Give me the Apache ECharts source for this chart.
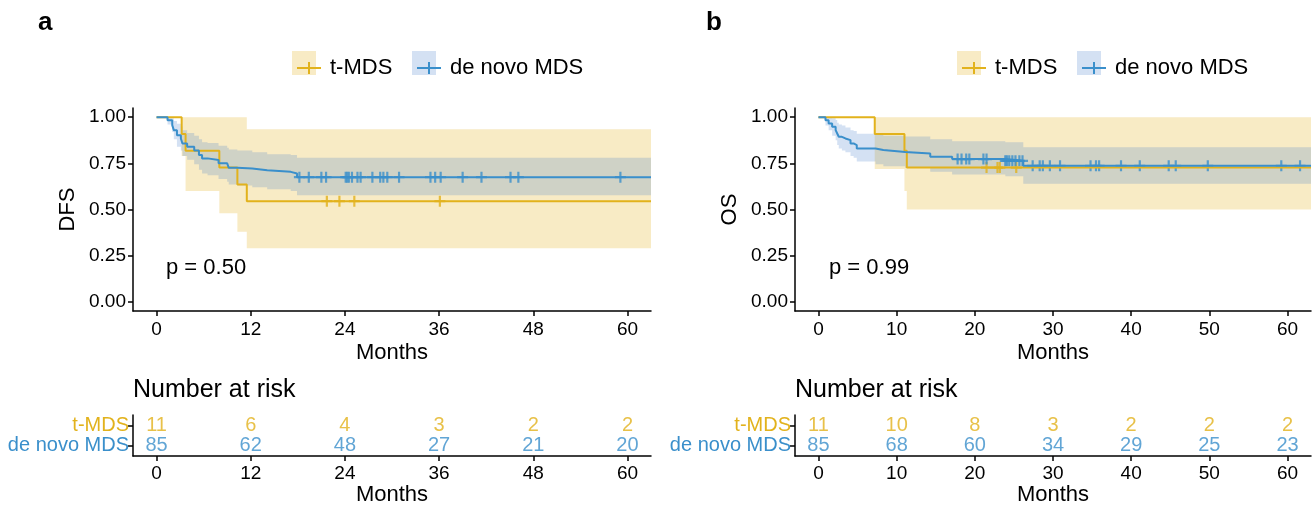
<!DOCTYPE html>
<html>
<head>
<meta charset="utf-8">
<script src="https://cdn.jsdelivr.net/npm/echarts@6/dist/echarts.min.js"></script>
<style>
html, body { margin: 0; padding: 0; background: #fff; }
#chart { width: 1313px; height: 507px; }
</style>
</head>
<body>
<div id="chart"></div>
<script>
// panel a: DFS, t-MDS
var dfsTTime  = [0, 3.2, 3.7, 8.0, 10.3, 11.5, 63];
var dfsTSurv  = [1, 0.909, 0.818, 0.727, 0.636, 0.545, 0.545];
var dfsTUpper = [1, 1, 1, 1, 1, 0.935, 0.935];
var dfsTLower = [1, 0.79, 0.60, 0.48, 0.38, 0.29, 0.29];
var dfsTCensor = [21.7, 23.3, 25.2, 36.1];
// panel a: DFS, de novo MDS
var dfsDTime  = [0, 1.4, 2.0, 2.2, 2.6, 3.1, 3.3, 3.9, 4.8, 5.4, 5.8, 6.5, 7.9, 9.0, 9.2, 10.3, 12.2, 14.1, 17.1, 17.9, 63];
var dfsDSurv  = [1, 0.984, 0.957, 0.93, 0.903, 0.885, 0.858, 0.84, 0.82, 0.795, 0.777, 0.768, 0.75, 0.74, 0.726, 0.722, 0.713, 0.704, 0.695, 0.675, 0.675];
var dfsDUpper = [1, 1, 0.995, 0.98, 0.965, 0.95, 0.93, 0.915, 0.9, 0.88, 0.865, 0.86, 0.845, 0.835, 0.825, 0.82, 0.81, 0.80, 0.795, 0.78, 0.78];
var dfsDLower = [1, 0.96, 0.92, 0.88, 0.84, 0.82, 0.79, 0.77, 0.745, 0.715, 0.695, 0.685, 0.665, 0.65, 0.635, 0.63, 0.62, 0.61, 0.60, 0.577, 0.577];
var dfsDCensor = [18.2, 19.4, 21.0, 21.6, 24.1, 24.3, 24.5, 24.9, 25.6, 26.0, 27.5, 28.5, 28.9, 29.4, 30.9,
                  34.9, 35.5, 36.2, 39.0, 41.4, 45.1, 46.1, 59.1];

// panel b: OS, t-MDS
var osTTime  = [0, 7.2, 11.0, 11.3, 63];
var osTSurv  = [1, 0.909, 0.818, 0.727, 0.727];
var osTUpper = [1, 1, 1, 1, 1];
var osTLower = [1, 0.72, 0.60, 0.50, 0.50];
var osTCensor = [21.5, 22.9, 23.2, 25.3];
// panel b: OS, de novo MDS
var osDTime  = [0, 0.9, 1.3, 1.75, 2.2, 2.4, 2.6, 3.0, 3.45, 4.1, 4.5, 4.9, 7.3, 8.3, 11.1, 14.3, 17.1, 23.9, 26.2, 63];
var osDSurv  = [1, 0.984, 0.966, 0.948, 0.93, 0.912, 0.894, 0.885, 0.876, 0.858, 0.849, 0.831, 0.822, 0.812, 0.804, 0.786, 0.773, 0.764, 0.737, 0.737];
var osDUpper = [1, 1, 1, 0.995, 0.985, 0.97, 0.96, 0.955, 0.945, 0.93, 0.925, 0.91, 0.905, 0.9, 0.895, 0.88, 0.87, 0.865, 0.837, 0.837];
var osDLower = [1, 0.955, 0.93, 0.9, 0.875, 0.85, 0.83, 0.82, 0.81, 0.79, 0.78, 0.76, 0.745, 0.735, 0.725, 0.705, 0.69, 0.68, 0.64, 0.64];
var osDCensor = [17.8, 18.3, 18.9, 19.3, 21.1, 21.5, 23.9, 24.1, 24.4, 24.8, 25.2, 25.7, 26.1, 27.4, 28.3, 28.7, 29.6,
                 30.9, 34.8, 35.5, 35.9, 38.7, 41.1, 44.8, 45.7, 49.8, 59.2, 61.6];

// number at risk
var riskGroups = ['de novo MDS', 't-MDS'];
var riskTimesA = [0, 12, 24, 36, 48, 60];
var riskTA = [11, 6, 4, 3, 2, 2];
var riskDA = [85, 62, 48, 27, 21, 20];
var riskTimesB = [0, 10, 20, 30, 40, 50, 60];
var riskTB = [11, 10, 8, 3, 2, 2, 2];
var riskDB = [85, 68, 60, 34, 29, 25, 23];

var ticksA = [0, 12, 24, 36, 48, 60];
var ticksB = [0, 10, 20, 30, 40, 50, 60];
var ticksY = [0, 0.25, 0.5, 0.75, 1];

var FONT = 'Liberation Sans, Arial, sans-serif';
var YEL = '#E2B21C', BLU = '#3A8FCB';
var YEL_FILL = 'rgba(228,180,40,0.27)', BLU_FILL = 'rgba(60,120,200,0.22)';
var PLUS = 'path://M4,0H6V4H10V6H6V10H4V6H0V4H4Z';
var LEGICON = 'path://M0,5H11V0H13V5H24V7H13V12H11V7H0Z';

function pairs(xs, ys) {
	return xs.map(function (x, i) { return [x, ys[i]]; });
}
function survAt(time, surv, t) {
	var s = surv[0];
	for (var i = 0; i < time.length; i++) { if (time[i] <= t) s = surv[i]; }
	return s;
}

// step-shaped confidence band as one polygon, points taken through the axis scales
function bandRender(params, api) {
	if (params.dataIndexInside !== 0) return null;
	var n = params.dataInsideLength, up = [], low = [];
	for (var i = 0; i < n - 1; i++) {
		var t0 = api.value(0, i), t1 = api.value(0, i + 1);
		up.push(api.coord([t0, api.value(2, i)]), api.coord([t1, api.value(2, i)]));
		low.push(api.coord([t0, api.value(1, i)]), api.coord([t1, api.value(1, i)]));
	}
	return {
		type: 'polygon',
		shape: { points: up.concat(low.reverse()) },
		style: { fill: api.visual('color') }
	};
}

// one panel: bands, curves, censor marks
function kmSeries(ax, T, D) {
	var out = [];
	[[T, YEL_FILL], [D, BLU_FILL]].forEach(function (g) {
		var s = g[0];
		out.push({
			type: 'custom', xAxisIndex: ax, yAxisIndex: ax, silent: true, clip: true,
			renderItem: bandRender, itemStyle: { color: g[1] },
			encode: { x: 0, y: [1, 2] },
			data: s.time.map(function (t, i) { return [t, s.lower[i], s.upper[i]]; })
		});
	});
	[[T, YEL, 't-MDS'], [D, BLU, 'de novo MDS']].forEach(function (g) {
		var s = g[0];
		out.push({
			name: g[2], type: 'line', xAxisIndex: ax, yAxisIndex: ax, step: 'end', showSymbol: false,
			color: g[1], lineStyle: { width: 2, color: g[1] }, data: pairs(s.time, s.surv)
		});
		out.push({
			type: 'scatter', xAxisIndex: ax, yAxisIndex: ax, symbol: PLUS, symbolSize: 11,
			itemStyle: { color: g[1] },
			data: s.censor.map(function (t) { return [t, survAt(s.time, s.surv, t)]; })
		});
	});
	return out;
}

function riskSeries(ax, times, tv, dv) {
	return [[tv, 't-MDS', YEL], [dv, 'de novo MDS', BLU]].map(function (g) {
		return {
			type: 'scatter', xAxisIndex: ax, yAxisIndex: ax, symbolSize: 1, silent: true,
			itemStyle: { color: 'transparent' },
			label: { show: true, position: 'inside', color: g[2], fontSize: 20, fontFamily: FONT,
				formatter: function (p) { return p.value[2]; } },
			data: times.map(function (t, i) { return [t, g[1], g[0][i]]; })
		};
	});
}

function axLine() { return { show: true, onZero: false, lineStyle: { color: '#000', width: 1.5 } }; }
function axTick(extra) {
	return Object.assign({ show: true, length: 5, lineStyle: { color: '#000', width: 1.5 } }, extra);
}

function xMain(ticks, gi, labelMargin, nameGap) {
	return {
		type: 'value', gridIndex: gi, min: -3, max: 63, splitLine: { show: false },
		axisLine: axLine(), axisTick: axTick({ customValues: ticks }),
		axisLabel: { customValues: ticks, color: '#000', fontSize: 19, fontFamily: FONT, margin: labelMargin },
		name: 'Months', nameLocation: 'middle', nameGap: nameGap,
		nameTextStyle: { color: '#000', fontSize: 22, fontFamily: FONT }
	};
}
function yMain(name, gi) {
	return {
		type: 'value', gridIndex: gi, min: -0.05, max: 1.05, splitLine: { show: false },
		axisLine: axLine(), axisTick: axTick({ customValues: ticksY }),
		axisLabel: { customValues: ticksY, color: '#000', fontSize: 19, fontFamily: FONT, margin: 7,
			formatter: function (v) { return v.toFixed(2); } },
		name: name, nameLocation: 'middle', nameGap: 54,
		nameTextStyle: { color: '#000', fontSize: 22, fontFamily: FONT }
	};
}
function yRisk(gi) {
	return {
		type: 'category', gridIndex: gi, data: riskGroups, boundaryGap: true,
		axisLine: axLine(), axisTick: axTick({ alignWithLabel: true, interval: 0 }),
		axisLabel: { interval: 0, fontSize: 20, fontFamily: FONT, margin: 4,
			color: function (v) { return v === 't-MDS' ? YEL : BLU; } }
	};
}

function legendItem(name, left, color) {
	return {
		data: [{ name: name, icon: LEGICON, itemStyle: { color: color } }],
		left: left, top: 52, itemWidth: 24, itemHeight: 12, selectedMode: false,
		textStyle: { color: '#000', fontSize: 22, fontFamily: FONT, padding: [0, 0, 0, 4] }
	};
}
function legendBox(left, fill) {
	return { type: 'rect', left: left, top: 51, z: 1, shape: { width: 24, height: 24 }, style: { fill: fill } };
}

var A_T = { time: dfsTTime, surv: dfsTSurv, upper: dfsTUpper, lower: dfsTLower, censor: dfsTCensor };
var A_D = { time: dfsDTime, surv: dfsDSurv, upper: dfsDUpper, lower: dfsDLower, censor: dfsDCensor };
var B_T = { time: osTTime, surv: osTSurv, upper: osTUpper, lower: osTLower, censor: osTCensor };
var B_D = { time: osDTime, surv: osDSurv, upper: osDUpper, lower: osDLower, censor: osDCensor };

var txt = function (s, l, t, size, bold) {
	return { text: s, left: l, top: t, padding: 0,
		textStyle: { color: '#000', fontSize: size, fontWeight: bold ? 'bold' : 'normal', fontFamily: FONT } };
};

var option = {
	animation: false,
	title: [
		txt('a', 38, 10, 26, true), txt('b', 706, 10, 26, true),
		txt('p = 0.50', 166, 257, 22), txt('p = 0.99', 829, 257, 22),
		txt('Number at risk', 133, 378, 25), txt('Number at risk', 795, 378, 25)
	],
	legend: [
		legendItem('t-MDS', 292, YEL), legendItem('de novo MDS', 412, BLU),
		legendItem('t-MDS', 957, YEL), legendItem('de novo MDS', 1077, BLU)
	],
	graphic: [
		legendBox(292, YEL_FILL), legendBox(412, BLU_FILL),
		legendBox(957, YEL_FILL), legendBox(1077, BLU_FILL)
	],
	grid: [
		{ left: 133, top: 108, width: 518, height: 203 },
		{ left: 133, top: 415, width: 518, height: 42 },
		{ left: 795, top: 108, width: 516, height: 203 },
		{ left: 795, top: 415, width: 516, height: 42 }
	],
	xAxis: [xMain(ticksA, 0, 9, 31), xMain(ticksA, 1, 8, 27), xMain(ticksB, 2, 9, 31), xMain(ticksB, 3, 8, 27)],
	yAxis: [yMain('DFS', 0), yRisk(1), yMain('OS', 2), yRisk(3)],
	series: [].concat(
		kmSeries(0, A_T, A_D),
		riskSeries(1, riskTimesA, riskTA, riskDA),
		kmSeries(2, B_T, B_D),
		riskSeries(3, riskTimesB, riskTB, riskDB)
	)
};

var myChart = echarts.init(document.getElementById('chart'));
myChart.setOption(option);
</script>
</body>
</html>
